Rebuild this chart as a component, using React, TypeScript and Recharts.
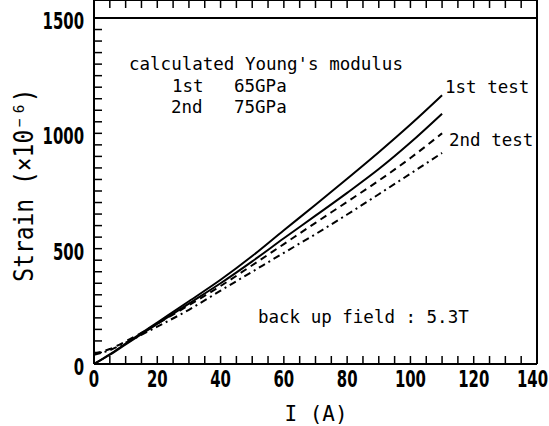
import { LineChart, Line, XAxis, YAxis, ReferenceLine, CartesianGrid } from 'recharts'

// current I (A)
const current = [0, 5, 10, 20, 30, 40, 50, 60, 70, 80, 90, 100, 110]
// strain (x10^-6)
const firstTestA = [0, 42, 88, 180, 272, 365, 468, 580, 690, 803, 918, 1038, 1165]
const firstTestB = [0, 40, 85, 174, 262, 350, 445, 545, 643, 742, 845, 960, 1085]
const secondTestA = [45, 65, 98, 175, 255, 338, 428, 520, 612, 703, 795, 893, 1000]
const secondTestB = [40, 60, 92, 162, 235, 318, 400, 482, 563, 648, 736, 825, 915]

const xTicks = Array.from({ length: 29 }, (_, k) => k * 5)
const yTicks = Array.from({ length: 31 }, (_, k) => k * 50)
const xLabels = [0, 20, 40, 60, 80, 100, 120, 140]
const yLabels = [0, 500, 1000, 1500]
const X_MAX = 140
const Y_MAX = 1500
// headroom above 1500 so the top of the box sits 18px below the edge
const Y_TOP = 1578

const data = current.map((i, k) => ({
  i,
  a: firstTestA[k],
  b: firstTestB[k],
  c: secondTestA[k],
  d: secondTestB[k],
}))

const W = 549
const H = 426
const TICK = 8

const TICK_FONT = '"DejaVu Sans Condensed", "DejaVu Sans", sans-serif'
const MONO = '"DejaVu Sans Mono", monospace'

function BottomLabel({ x, y, payload }: any) {
  if (!xLabels.includes(payload.value)) return <g />
  const last = payload.value === X_MAX
  return (
    <g transform={`translate(${last ? x + 11 : x},${y + 23}) scale(0.72,1)`}>
      <text x={0} y={0} textAnchor={last ? 'end' : 'middle'} fontFamily={TICK_FONT} fontSize={23} fontWeight={600} fill="#000">
        {payload.value}
      </text>
    </g>
  )
}

function LeftLabel({ x, y, payload }: any) {
  if (!yLabels.includes(payload.value)) return <g />
  return (
    <g transform={`translate(${x - 10},${y + 11}) scale(0.72,1)`}>
      <text x={0} y={0} textAnchor="end" fontFamily={TICK_FONT} fontSize={23} fontWeight={600} fill="#000">
        {payload.value}
      </text>
    </g>
  )
}

const frame = { stroke: '#000', strokeWidth: 2 }
const tickLine = { stroke: '#000', strokeWidth: 1.5 }
const noLabel = () => ''

export default function App() {
  return (
    <div style={{ position: 'absolute', left: 0, top: 0, width: W, height: H, background: '#fff' }}>
      <LineChart width={W} height={H} data={data} margin={{ top: 0, right: 0, bottom: 0, left: 0 }}>
        <CartesianGrid horizontal={false} vertical={false} stroke="#000" />
        <XAxis
          dataKey="i"
          type="number"
          domain={[0, X_MAX]}
          ticks={xTicks}
          interval={0}
          tickSize={-TICK}
          tickMargin={TICK}
          tickLine={tickLine}
          tick={<BottomLabel />}
          height={62}
          stroke="#000"
          axisLine={frame}
        />
        <XAxis
          xAxisId="top"
          orientation="top"
          dataKey="i"
          type="number"
          domain={[0, X_MAX]}
          ticks={xTicks}
          interval={0}
          tickSize={TICK}
          mirror
          tickLine={tickLine}
          tickFormatter={noLabel}
          height={18}
          stroke="#000"
          axisLine={frame}
        />
        <YAxis
          type="number"
          domain={[0, Y_TOP]}
          ticks={yTicks}
          interval={0}
          tickSize={-TICK}
          tickMargin={TICK}
          tickLine={tickLine}
          tick={<LeftLabel />}
          width={94}
          stroke="#000"
          axisLine={frame}
        />
        <YAxis
          yAxisId="right"
          orientation="right"
          type="number"
          domain={[0, Y_TOP]}
          ticks={yTicks}
          interval={0}
          tickSize={TICK}
          tickLine={tickLine}
          tickFormatter={noLabel}
          width={12}
          stroke="#000"
          axisLine={frame}
        />
        <ReferenceLine y={Y_MAX} stroke="#000" strokeWidth={2} />
        <ReferenceLine x={X_MAX} stroke="#000" strokeWidth={2} />
        <Line type="monotone" dataKey="a" stroke="#000" strokeWidth={2} dot={false} isAnimationActive={false} />
        <Line type="monotone" dataKey="b" stroke="#000" strokeWidth={2} dot={false} isAnimationActive={false} />
        <Line type="monotone" dataKey="c" stroke="#000" strokeWidth={2} strokeDasharray="7 5" dot={false} isAnimationActive={false} />
        <Line type="monotone" dataKey="d" stroke="#000" strokeWidth={2} strokeDasharray="7 4 2 4" dot={false} isAnimationActive={false} />
      </LineChart>
      <svg width={W} height={H} style={{ position: 'absolute', left: 0, top: 0, pointerEvents: 'none' }}>
        <g fontFamily={MONO} fill="#000">
          <g transform="translate(33 185) rotate(-90) scale(0.85 1)">
            <text x={0} y={0} fontSize={27} textAnchor="middle">
              Strain (×10⁻⁶)
            </text>
          </g>
          <text x={316} y={421} fontSize={21} textAnchor="middle">I (A)</text>
          <text x={129} y={70} fontSize={17.5}>calculated Young's modulus</text>
          <text x={172} y={92} fontSize={17.5}>1st</text>
          <text x={234} y={92} fontSize={17.5}>65GPa</text>
          <text x={171} y={113} fontSize={17.5}>2nd</text>
          <text x={234} y={113} fontSize={17.5}>75GPa</text>
          <text x={445} y={93} fontSize={17.5}>1st test</text>
          <text x={449} y={146} fontSize={17.5}>2nd test</text>
          <text x={258} y={323} fontSize={17.5}>back up field : 5.3T</text>
        </g>
      </svg>
    </div>
  )
}
